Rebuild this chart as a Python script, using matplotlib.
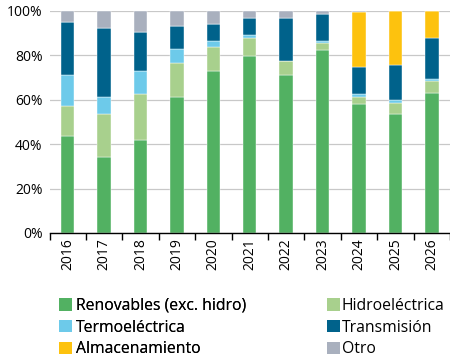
import matplotlib
matplotlib.use("Agg")
import matplotlib.pyplot as plt
import numpy as np
from matplotlib.patches import Patch
from matplotlib import font_manager as fm

years = ["2016", "2017", "2018", "2019", "2020", "2021", "2022", "2023", "2024", "2025", "2026"]
renovables = [43.7, 34.2, 42.0, 61.3, 73.0, 79.7, 71.2, 82.4, 58.1, 53.6, 63.1]
hidro = [13.5, 19.3, 20.5, 15.1, 10.6, 8.3, 6.1, 3.0, 3.3, 5.1, 5.4]
termo = [14.0, 7.9, 10.5, 6.3, 2.7, 1.3, 0.3, 1.0, 1.1, 1.1, 0.9]
transmision = [23.8, 30.9, 17.5, 10.5, 7.8, 7.4, 19.1, 12.3, 12.1, 15.7, 18.4]
almacenamiento = [0, 0, 0, 0, 0, 0, 0, 0, 24.9, 24.5, 12.2]
otro = [5.0, 7.7, 9.5, 6.8, 5.9, 3.3, 3.3, 1.3, 0.5, 0.0, 0.0]

series = [
    ("Renovables (exc. hidro)", renovables, "#52b162"),
    ("Hidroeléctrica", hidro, "#a8d08d"),
    ("Termoeléctrica", termo, "#6dcaea"),
    ("Transmisión", transmision, "#00628b"),
    ("Almacenamiento", almacenamiento, "#fdc20e"),
    ("Otro", otro, "#a9b0be"),
]

plt.rcParams['font.family'] = ['Open Sans', 'DejaVu Sans']
plt.rcParams['font.weight'] = 'normal'
fig = plt.figure(figsize=(4.5, 3.57), dpi=100)
ax = fig.add_axes([49.5/450, 1-233/357, 1-49.5/450, 222/357])

x = np.arange(len(years))
bottom = np.zeros(len(years))
handles = {}
for name, vals, col in series:
    v = np.array(vals, dtype=float)
    ax.bar(x, v, bottom=bottom, width=0.37, color=col, edgecolor='white', linewidth=0.3, zorder=3)
    bottom += v
    handles[name] = Patch(facecolor=col, edgecolor='none')

ax.set_xlim(-0.5, len(years)-0.5)
ax.set_ylim(0, 100)
ax.set_yticks([0, 20, 40, 60, 80, 100])
ax.set_yticklabels(["0%", "20%", "40%", "60%", "80%", "100%"], fontsize=10)
ax.tick_params(axis='y', length=0, pad=5)
ax.yaxis.grid(True, color='#c8c8c8', linewidth=0.9, zorder=0)

ax.set_xticks(np.arange(len(years)+1) - 0.5)
ax.set_xticklabels([])
ax.set_xticks(x, minor=True)
ax.set_xticklabels(years, minor=True, rotation=90, fontsize=10)
ax.tick_params(axis='x', which='major', length=5, width=1, color='black')
ax.tick_params(axis='x', which='minor', length=0, pad=4)

for s in ['top', 'right', 'left']:
    ax.spines[s].set_visible(False)
ax.spines['bottom'].set_color('black')
ax.spines['bottom'].set_linewidth(1)
ax.spines['bottom'].set_zorder(4)

left_names = ["Renovables (exc. hidro)", "Termoeléctrica", "Almacenamiento"]
right_names = ["Hidroeléctrica", "Transmisión", "Otro"]
lp = fm.FontProperties(family=['Open Sans', 'DejaVu Sans'], size=11.3)
common = dict(loc='upper left', frameon=False, prop=lp,
              handlelength=0.82, handleheight=0.82, labelspacing=0.36,
              borderpad=0, borderaxespad=0)
leg1 = fig.legend([handles[n] for n in left_names], left_names,
                  bbox_to_anchor=(59/450, 1-298/357), handletextpad=0.25, **common)
fig.add_artist(leg1)
fig.legend([handles[n] for n in right_names], right_names,
           bbox_to_anchor=(327/450, 1-298/357), handletextpad=0.12, **common)

fig.savefig("out.png", dpi=100)
